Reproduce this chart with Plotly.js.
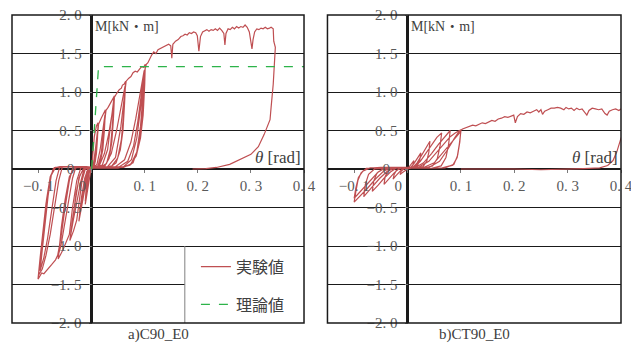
<!DOCTYPE html>
<html>
<head>
<meta charset="utf-8">
<script src="https://cdn.plot.ly/plotly-3.0.1.min.js"></script>
<style>html,body{margin:0;padding:0;background:#fff;}</style>
</head>
<body>
<div id="chart" style="width:631px;height:345px;"></div>
<script>
// ---------- data ----------
const legendNames = ['実験値', '理論値'];
const panelTitles = ['a)C90_E0', 'b)CT90_E0'];
const yTickVals = [-2, -1.5, -1, -0.5, 0, 0.5, 1, 1.5, 2];
const yTickText = ['−2. 0', '−1. 5', '−1. 0', '−0. 5', '0\u00a0\u00a0', '0. 5', '1. 0', '1. 5', '2. 0'];
const xTickVals = [-0.1, 0, 0.1, 0.2, 0.3, 0.4];
const xTickText = ['−0. 1', '0\u00a0\u00a0\u00a0\u00a0\u00a0', '0. 1', '0. 2', '0. 3', '0. 4'];

// C90_E0 experiment (theta [rad], M [kN·m]); one line per loading cycle
const c90Theta = [
  0, 0.002, 0.005, 0.009, 0.012, 0.011, 0.009, 0.006, 0.002, -0.001, -0.004, -0.008, -0.012, -0.010, -0.007, -0.004, 0,
  0.003, 0.007, 0.010, 0.012, 0.010, 0.007, 0.003, -0.002, -0.006, -0.009, -0.012, -0.010, -0.006, 0,
  0.005, 0.010, 0.013, 0.018, 0.022, 0.026, 0.024, 0.021, 0.016, 0.009, 0.002, -0.005, -0.010, -0.015, -0.020, -0.024, -0.020, -0.015, -0.009, -0.004, 0.002,
  0.010, 0.016, 0.021, 0.025, 0.022, 0.018, 0.012, 0.004, -0.006, -0.012, -0.018, -0.023, -0.019, -0.013, -0.007, 0.001,
  0.012, 0.018, 0.024, 0.027, 0.031, 0.035, 0.039, 0.043, 0.041, 0.038, 0.033, 0.025, 0.012, 0.0, -0.012, -0.018, -0.024, -0.028, -0.034, -0.041, -0.036, -0.030, -0.024, -0.016, -0.005, 0.004,
  0.015, 0.024, 0.032, 0.038, 0.042, 0.039, 0.035, 0.028, 0.016, 0.0, -0.014, -0.020, -0.028, -0.035, -0.040, -0.035, -0.029, -0.022, -0.014, 0.004,
  0.020, 0.030, 0.037, 0.042, 0.047, 0.052, 0.056, 0.058, 0.061, 0.064, 0.062, 0.059, 0.054, 0.046, 0.034, 0.015, -0.005, -0.020, -0.028, -0.036, -0.042, -0.048, -0.054, -0.063, -0.058, -0.051, -0.044, -0.036, -0.020, -0.005, 0.006,
  0.025, 0.037, 0.047, 0.055, 0.060, 0.063, 0.060, 0.056, 0.049, 0.038, 0.018, -0.010, -0.030, -0.036, -0.044, -0.052, -0.058, -0.062, -0.057, -0.050, -0.042, -0.032, -0.010, 0.008,
  0.030, 0.045, 0.055, 0.061, 0.065, 0.070, 0.074, 0.078, 0.082, 0.086, 0.090, 0.094, 0.098, 0.101, 0.100, 0.097, 0.092, 0.084, 0.072, 0.050, 0.020, -0.010, -0.035, -0.042, -0.050, -0.058, -0.064, -0.068, -0.075, -0.080, -0.085, -0.090, -0.094, -0.098, -0.101, -0.097, -0.092, -0.086, -0.079, -0.072, -0.060, -0.030, 0.010,
  0.045, 0.062, 0.074, 0.083, 0.090, 0.095, 0.099, 0.097, 0.094, 0.088, 0.078, 0.060, 0.020, -0.030, -0.055, -0.062, -0.070, -0.078, -0.086, -0.093, -0.100, -0.096, -0.091, -0.085, -0.078, -0.070, -0.040, 0.010,
  0.050, 0.068, 0.079, 0.087, 0.093, 0.097, 0.099, 0.096, 0.092, 0.085, 0.074, 0.050, 0.000, -0.040, -0.060, -0.067, -0.075, -0.083, -0.090, -0.097, -0.093, -0.088, -0.082, -0.076, -0.068, -0.030, 0.020,
  0.060, 0.075, 0.085, 0.092, 0.097, 0.100, 0.103, 0.106, 0.110, 0.113,
  0.117, 0.121, 0.125, 0.130, 0.135, 0.140, 0.145, 0.149, 0.151, 0.153,
  0.158, 0.163, 0.168, 0.172, 0.176, 0.180, 0.184, 0.188, 0.192, 0.196,
  0.199, 0.202, 0.205, 0.209, 0.213, 0.217, 0.221, 0.225, 0.229, 0.233,
  0.237, 0.241, 0.245, 0.249, 0.251, 0.253, 0.257, 0.261, 0.265, 0.269,
  0.273, 0.277, 0.281, 0.285, 0.289, 0.293, 0.297, 0.300, 0.302, 0.304,
  0.307, 0.311, 0.315, 0.319, 0.323, 0.327, 0.331, 0.335, 0.338, 0.342,
  0.343, 0.346, 0.345, 0.342, 0.338, 0.336, 0.325, 0.314, 0.300, 0.279,
  0.260, 0.235, 0.215, 0.190
];
const c90Moment = [
  0, 0.2, 0.42, 0.56, 0.6, 0.4, 0.2, 0.07, 0.02, 0.0, -0.12, -0.3, -0.46, -0.3, -0.12, 0.0, 0.01,
  0.05, 0.25, 0.45, 0.55, 0.3, 0.1, 0.02, 0.01, -0.08, -0.28, -0.42, -0.22, -0.05, 0.01,
  0.05, 0.35, 0.58, 0.66, 0.72, 0.77, 0.5, 0.25, 0.08, 0.02, 0.01, 0.0, -0.15, -0.35, -0.55, -0.68, -0.42, -0.2, -0.03, 0.01, 0.02,
  0.06, 0.25, 0.5, 0.7, 0.4, 0.15, 0.04, 0.01, 0.01, -0.15, -0.4, -0.62, -0.36, -0.12, 0.0, 0.02,
  0.04, 0.2, 0.55, 0.76, 0.8, 0.85, 0.9, 0.95, 0.65, 0.35, 0.14, 0.04, 0.01, 0.01, 0.0, -0.15, -0.45, -0.66, -0.8, -0.93, -0.65, -0.35, -0.12, 0.0, 0.02, 0.02,
  0.05, 0.2, 0.45, 0.7, 0.9, 0.55, 0.25, 0.07, 0.02, 0.01, 0.01, -0.15, -0.42, -0.68, -0.88, -0.58, -0.3, -0.08, 0.01, 0.02,
  0.05, 0.25, 0.6, 0.92, 0.98, 1.03, 1.05, 1.09, 1.1, 1.14, 0.85, 0.5, 0.25, 0.08, 0.02, 0.01, 0.02, 0.02, -0.15, -0.5, -0.85, -0.95, -1.05, -1.17, -0.85, -0.5, -0.2, 0.0, 0.03, 0.02, 0.02,
  0.04, 0.2, 0.5, 0.8, 1.0, 1.08, 0.7, 0.38, 0.14, 0.04, 0.01, 0.02, 0.02, -0.12, -0.45, -0.8, -1.0, -1.1, -0.75, -0.4, -0.1, 0.02, 0.02, 0.02,
  0.03, 0.15, 0.55, 0.95, 1.14, 1.18, 1.2, 1.25, 1.27, 1.26, 1.3, 1.33, 1.32, 1.36, 1.1, 0.7, 0.4, 0.17, 0.05, 0.01, 0.01, 0.03, 0.03, -0.15, -0.5, -0.9, -1.12, -1.18, -1.24, -1.28, -1.31, -1.36, -1.35, -1.4, -1.43, -1.15, -0.8, -0.45, -0.15, 0.01, 0.03, 0.03, 0.02,
  0.03, 0.12, 0.35, 0.65, 0.95, 1.15, 1.28, 0.95, 0.6, 0.28, 0.08, 0.02, 0.01, 0.03, 0.03, -0.15, -0.5, -0.85, -1.12, -1.3, -1.38, -1.1, -0.75, -0.4, -0.1, 0.02, 0.03, 0.02,
  0.02, 0.1, 0.3, 0.62, 0.95, 1.15, 1.26, 0.9, 0.55, 0.22, 0.06, 0.01, 0.01, 0.03, 0.03, -0.15, -0.55, -0.9, -1.15, -1.32, -1.05, -0.7, -0.35, -0.08, 0.02, 0.03, 0.02,
  0.03, 0.12, 0.4, 0.75, 1.05, 1.28, 1.36, 1.38, 1.45, 1.48,
  1.52, 1.5, 1.55, 1.57, 1.59, 1.6, 1.62, 1.6, 1.44, 1.62,
  1.66, 1.68, 1.72, 1.73, 1.75, 1.74, 1.77, 1.76, 1.78, 1.77,
  1.73, 1.53, 1.72, 1.78, 1.8, 1.81, 1.79, 1.81, 1.8, 1.82,
  1.8, 1.83, 1.8, 1.76, 1.61, 1.76, 1.82, 1.81, 1.84, 1.82,
  1.85, 1.83, 1.85, 1.84, 1.87, 1.84, 1.78, 1.67, 1.56, 1.68,
  1.78, 1.82, 1.81, 1.83, 1.82, 1.84, 1.82, 1.83, 1.84, 1.82,
  1.66, 1.58, 1.4, 1.1, 0.8, 0.64, 0.45, 0.29, 0.19, 0.12,
  0.06, 0.02, 0.005, 0
];

// C90_E0 theory
const theoryTheta = [0, 0.013, 0.4];
const theoryMoment = [0, 1.33, 1.33];

// CT90_E0 experiment
const ct90Theta = [
  0, 0.004, 0.008, 0.012, 0.010, 0.006, 0.000, -0.005, -0.010, -0.014, -0.012, -0.007, 0.000,
  0.006, 0.012, 0.018, 0.025, 0.023, 0.019, 0.012, 0.000, -0.010, -0.016, -0.022, -0.027, -0.025, -0.021, -0.012, 0.000,
  0.010, 0.018, 0.026, 0.034, 0.042, 0.040, 0.036, 0.029, 0.015, 0.000, -0.015, -0.025, -0.034, -0.044, -0.042, -0.037, -0.025, -0.005,
  0.012, 0.024, 0.036, 0.046, 0.055, 0.064, 0.061, 0.056, 0.047, 0.030, 0.005, -0.020, -0.032, -0.044, -0.055, -0.066, -0.063, -0.057, -0.045, -0.020, 0.000,
  0.015, 0.030, 0.045, 0.058, 0.070, 0.080, 0.077, 0.072, 0.063, 0.045, 0.010, -0.025, -0.038, -0.052, -0.067, -0.082, -0.079, -0.073, -0.062, -0.030, 0.000,
  0.020, 0.040, 0.055, 0.070, 0.080, 0.090, 0.100, 0.098, 0.094, 0.087, 0.070, 0.040, 0.000, -0.030, -0.045, -0.060, -0.075, -0.088, -0.100, -0.097, -0.093, -0.087, -0.077, -0.050, -0.020, 0.000,
  0.030, 0.050, 0.065, 0.080, 0.092, 0.100, 0.097, 0.093, 0.085, 0.065, 0.030, -0.010, -0.040, -0.055, -0.070, -0.085, -0.100, -0.097, -0.092, -0.084, -0.070, -0.040, 0.000,
  0.040, 0.060, 0.075, 0.088, 0.097, 0.103, 0.110, 0.116, 0.122, 0.128,
  0.134, 0.140, 0.146, 0.152, 0.158, 0.164, 0.170, 0.176, 0.182, 0.188,
  0.194, 0.199, 0.202, 0.206, 0.212, 0.218, 0.224, 0.230, 0.236, 0.242,
  0.246, 0.250, 0.253, 0.257, 0.263, 0.269, 0.275, 0.281, 0.287, 0.293,
  0.297, 0.302, 0.307, 0.312, 0.317, 0.322, 0.327, 0.332, 0.336, 0.340,
  0.346, 0.352, 0.358, 0.364, 0.370, 0.374, 0.378, 0.384, 0.390, 0.396,
  0.402, 0.410, 0.420, 0.430, 0.420, 0.410, 0.400, 0.392, 0.385, 0.375,
  0.360, 0.330, 0.300, 0.250, 0.200, 0.150, 0.100
];
const ct90Moment = [
  0, 0.04, 0.08, 0.11, 0.05, 0.01, 0.00, -0.02, -0.05, -0.07, -0.03, 0.00, 0.01,
  0.02, 0.07, 0.14, 0.21, 0.12, 0.05, 0.01, 0.01, 0.00, -0.04, -0.09, -0.13, -0.07, -0.02, 0.01, 0.01,
  0.02, 0.08, 0.18, 0.28, 0.36, 0.22, 0.10, 0.03, 0.01, 0.01, 0.01, -0.05, -0.12, -0.20, -0.10, -0.03, 0.01, 0.015,
  0.02, 0.10, 0.22, 0.33, 0.41, 0.47, 0.30, 0.14, 0.04, 0.01, 0.01, 0.015, -0.04, -0.12, -0.21, -0.29, -0.15, -0.05, 0.00, 0.015, 0.015,
  0.02, 0.08, 0.20, 0.32, 0.42, 0.50, 0.32, 0.15, 0.04, 0.01, 0.01, 0.015, -0.03, -0.12, -0.24, -0.36, -0.20, -0.07, 0.00, 0.015, 0.015,
  0.02, 0.10, 0.22, 0.35, 0.42, 0.47, 0.51, 0.35, 0.18, 0.06, 0.015, 0.01, 0.015, 0.02, -0.03, -0.13, -0.25, -0.34, -0.43, -0.30, -0.15, -0.05, 0.01, 0.02, 0.02, 0.02,
  0.02, 0.08, 0.20, 0.33, 0.43, 0.49, 0.32, 0.15, 0.05, 0.015, 0.01, 0.02, 0.02, -0.04, -0.15, -0.27, -0.38, -0.25, -0.11, -0.03, 0.015, 0.02, 0.02,
  0.02, 0.10, 0.25, 0.40, 0.49, 0.52, 0.54, 0.55, 0.57, 0.56,
  0.58, 0.60, 0.59, 0.61, 0.63, 0.62, 0.65, 0.66, 0.68, 0.67,
  0.69, 0.70, 0.60, 0.68, 0.72, 0.71, 0.74, 0.73, 0.75, 0.77,
  0.74, 0.77, 0.71, 0.75, 0.77, 0.79, 0.79, 0.80, 0.79, 0.77,
  0.80, 0.78, 0.79, 0.76, 0.79, 0.77, 0.78, 0.74, 0.70, 0.76,
  0.79, 0.78, 0.77, 0.78, 0.72, 0.70, 0.75, 0.77, 0.78, 0.76,
  0.79, 0.78, 0.80, 0.79, 0.62, 0.52, 0.40, 0.22, 0.11, 0.045,
  0.015, 0.005, 0.0, -0.01, 0.0, 0.0, 0.0
];

// ---------- styling ----------
const RED = '#bf4f52';
const GREEN = '#2db34a';
const TICKFONT = {family: 'Liberation Serif, DejaVu Serif, serif', size: 15, color: '#5a5a5a'};
const LABELFONT = {family: 'Liberation Serif, Noto Sans CJK JP, serif', size: 14, color: '#404040'};
const THETAFONT = {family: 'Liberation Serif, serif', size: 17, color: '#404040'};
const TITLEFONT = {family: 'Liberation Serif, Noto Sans CJK JP, serif', size: 15, color: '#404040'};

const X_RANGE = [-0.15, 0.4];
const Y_RANGE = [-2, 2];
const domLeft = [0, 0.4795];
const domRight = [0.518, 1];
function zeroPos(dom) { return dom[0] + (dom[1] - dom[0]) * (0 - X_RANGE[0]) / (X_RANGE[1] - X_RANGE[0]); }

function xAxis(dom) {
  return {
    domain: dom, range: X_RANGE, anchor: 'free', position: 0.5,
    showgrid: false, zeroline: true, zerolinecolor: '#1a1a1a', zerolinewidth: 2.5,
    showline: false, ticks: 'outside', ticklen: 3, tickcolor: '#7a7a7a', tickwidth: 1,
    tickvals: xTickVals, ticktext: xTickText, tickfont: TICKFONT, ticklabelstandoff: 0,
    ticklabeloverflow: 'allow'
  };
}
function yAxis(dom) {
  return {
    domain: [0, 1], range: Y_RANGE, anchor: 'free', position: zeroPos(dom),
    showgrid: true, gridcolor: '#1a1a1a', gridwidth: 1,
    zeroline: true, zerolinecolor: '#1a1a1a', zerolinewidth: 2.5,
    showline: false, ticks: 'outside', ticklen: 3, tickcolor: '#7a7a7a', tickwidth: 1,
    tickvals: yTickVals, ticktext: yTickText, tickfont: TICKFONT, ticklabelstandoff: 4,
    ticklabeloverflow: 'allow'
  };
}

const traces = [
  {x: c90Theta, y: c90Moment, xaxis: 'x', yaxis: 'y', type: 'scatter', mode: 'lines',
   name: legendNames[0], legendgroup: 'a', line: {color: RED, width: 1.2}},
  {x: theoryTheta, y: theoryMoment, xaxis: 'x', yaxis: 'y', type: 'scatter', mode: 'lines',
   name: legendNames[1], legendgroup: 'b', line: {color: GREEN, width: 1.3, dash: 'dash'}},
  {x: ct90Theta, y: ct90Moment, xaxis: 'x2', yaxis: 'y2', type: 'scatter', mode: 'lines',
   name: legendNames[0], showlegend: false, line: {color: RED, width: 1.2}}
];

function panelAnn(xr, yr, title) {
  return [
    {xref: xr, yref: yr + ' domain', x: 0, y: 1, xanchor: 'left', yanchor: 'top', xshift: 1, yshift: -2,
     text: 'M[kN・m]', showarrow: false, font: LABELFONT},
    {xref: xr + ' domain', yref: yr, x: 1, y: 0, xanchor: 'right', yanchor: 'bottom', xshift: -1, yshift: 0,
     text: '<i>θ</i> [rad]', showarrow: false, font: THETAFONT},
    {xref: xr + ' domain', yref: yr + ' domain', x: 0.5, y: 0, xanchor: 'center', yanchor: 'top', yshift: -1,
     text: title, showarrow: false, font: TITLEFONT}
  ];
}

const shapes = [
  // legend box (left panel)
  {type: 'rect', xref: 'x', yref: 'y', x0: 0.1755, x1: 0.4, y0: -2, y1: -1.015,
   fillcolor: 'white', line: {width: 0}, layer: 'between'},
  {type: 'line', xref: 'x', yref: 'y', x0: 0.1755, x1: 0.1755, y0: -2, y1: -1,
   line: {color: '#808080', width: 1}, layer: 'between'},
  // frames
  {type: 'rect', xref: 'x domain', yref: 'y domain', x0: 0, x1: 1, y0: 0, y1: 1,
   line: {color: '#1a1a1a', width: 1.5}, fillcolor: 'rgba(0,0,0,0)', layer: 'above'},
  {type: 'rect', xref: 'x2 domain', yref: 'y2 domain', x0: 0, x1: 1, y0: 0, y1: 1,
   line: {color: '#1a1a1a', width: 1.5}, fillcolor: 'rgba(0,0,0,0)', layer: 'above'}
];

const layout = {
  width: 631, height: 345,
  margin: {l: 12, r: 10, t: 15, b: 22, pad: 0},
  paper_bgcolor: 'white', plot_bgcolor: 'white',
  showlegend: true,
  legend: {x: 0.302, y: 0.238, xanchor: 'left', yanchor: 'top', bgcolor: 'rgba(0,0,0,0)',
           borderwidth: 0, font: {family: 'Noto Sans CJK JP', size: 16, color: '#404040'},
           tracegroupgap: 14, traceorder: 'grouped'},
  xaxis: xAxis(domLeft), yaxis: yAxis(domLeft),
  xaxis2: xAxis(domRight), yaxis2: yAxis(domRight),
  annotations: panelAnn('x', 'y', panelTitles[0]).concat(panelAnn('x2', 'y2', panelTitles[1])),
  shapes: shapes
};

Plotly.newPlot('chart', traces, layout, {staticPlot: true, displayModeBar: false});
</script>
</body>
</html>
